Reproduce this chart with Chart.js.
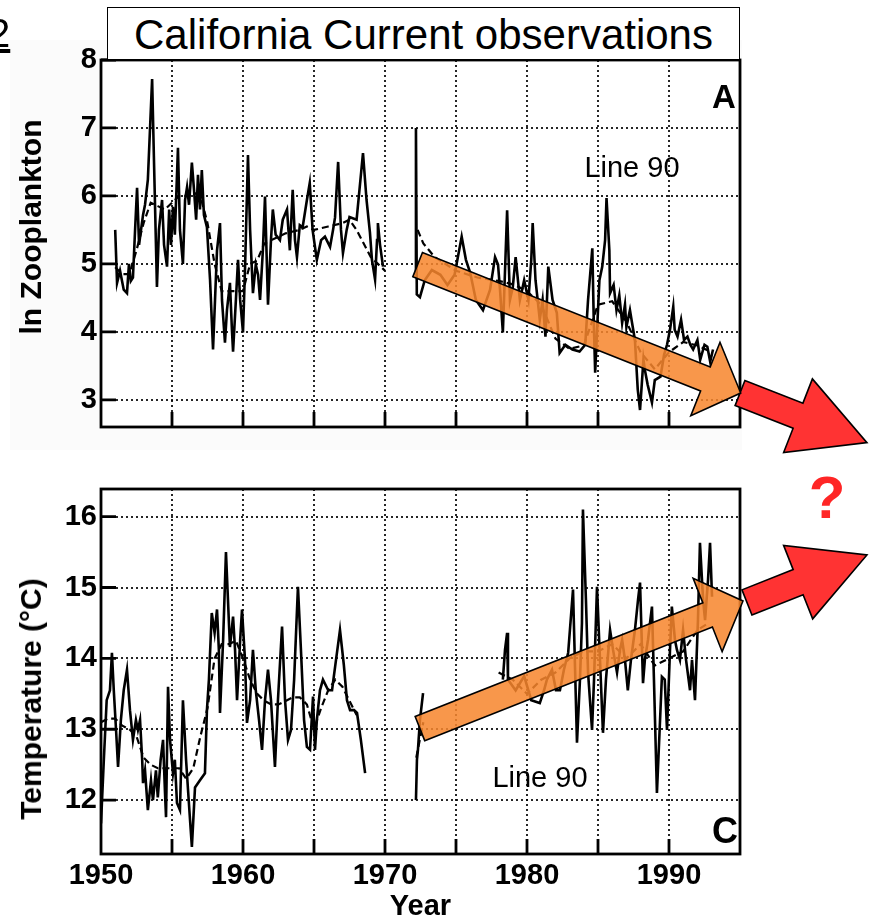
<!DOCTYPE html>
<html>
<head>
<meta charset="utf-8">
<script src="https://cdn.jsdelivr.net/npm/chart.js@4/dist/chart.umd.min.js"></script>
<style>
  html, body { margin: 0; padding: 0; background: #fff; }
  body { width: 869px; height: 921px; position: relative; overflow: hidden; font-family: 'Liberation Sans', Arial, Helvetica, sans-serif; }
  canvas { position: absolute; left: 0; }
  .t { position: absolute; white-space: nowrap; line-height: 1; transform: translate(-50%, -50%); color: #000; }
  .rot { transform: translate(-50%, -50%) rotate(-90deg); }
</style>
</head>
<body>
<div style="position:absolute;left:10px;top:40px;width:732px;height:410px;background:#fbfbfb;"></div>
<canvas id="top" width="869" height="460" style="top:0;width:869px;height:460px;"></canvas>
<canvas id="bottom" width="869" height="461" style="top:460px;width:869px;height:461px;"></canvas>

<div style="position:absolute;left:-12px;top:13px;font-size:40px;line-height:1;text-decoration:underline;">2</div>
<div style="position:absolute;left:107px;top:7px;width:633px;height:53px;box-sizing:border-box;border:1.5px solid #000;background:#fff;padding-top:2px;font-size:42px;line-height:50px;text-align:center;white-space:nowrap;">California Current observations</div>
<div class="t rot" style="left:31px;top:227px;font-size:30px;font-weight:bold;">ln Zooplankton</div>
<div class="t rot" style="left:31px;top:699px;font-size:30px;font-weight:bold;">Temperature (°C)</div>
<div class="t" style="left:724px;top:96px;font-size:33px;font-weight:bold;">A</div>
<div class="t" style="left:725px;top:831px;font-size:36px;font-weight:bold;">C</div>
<div class="t" style="left:632px;top:167px;font-size:29px;">Line 90</div>
<div class="t" style="left:540px;top:777px;font-size:29px;">Line 90</div>
<div class="t" style="left:827px;top:498px;font-size:60px;font-weight:bold;color:#ff2626;">?</div>

<script>
// ---------- data ----------
const yearTicks = [1950, 1960, 1970, 1980, 1990];
const zooTicks = [3, 4, 5, 6, 7, 8];
const tempTicks = [12, 13, 14, 15, 16];

// Panel A: ln zooplankton volume, Line 90 (raw)
const zooRawYears = [
  1951.0,1951.13,1951.34,1951.6,1951.83,1951.97,1952.1,1952.25,1952.4,1952.54,
  1952.68,1952.8,1952.96,1953.1,1953.3,1953.6,1953.73,1953.94,1954.08,1954.3,
  1954.44,1954.65,1954.8,1954.93,1955.07,1955.2,1955.42,1955.56,1955.77,1955.92,
  1956.06,1956.2,1956.4,1956.55,1956.7,1956.83,1956.97,1957.1,1957.25,1957.46,
  1957.68,1957.89,1958.03,1958.17,1958.38,1958.52,1958.73,1958.87,1959.08,1959.22,
  1959.3,1959.5,1959.65,1959.8,1960.0,1960.14,1960.35,1960.5,1960.7,1960.9,
  1961.06,1961.2,1961.4,1961.55,1961.76,1961.97,1962.1,1962.3,1962.6,1962.8,
  1963.1,1963.3,1963.5,1963.66,1963.8,1964.0,1964.2,1964.5,1964.7,1964.9,
  1965.2,1965.5,1965.77,1966.13,1966.34,1966.48,1966.7,1966.9,1967.04,1967.3,
  1967.5,1968.0,1968.45,1968.7,1968.94,1969.08,1969.3,1969.44,1969.5,1969.65,
  1969.86,
  1971,
  1972.15,1972.18,1972.24,1972.46,1972.8,1973.3,1973.9,1974.4,1974.9,1975.4,
  1975.7,1976.0,1976.4,1976.9,1977.4,1977.75,1977.96,1978.1,1978.3,1978.6,
  1978.8,1979.0,1979.2,1979.5,1979.8,1980.1,1980.3,1980.4,1980.6,1980.9,
  1981.1,1981.3,1981.5,1981.8,1982.1,1982.3,1982.7,1983.2,1983.7,1984.1,
  1984.3,1984.6,1984.7,1984.8,1985.0,1985.1,1985.3,1985.5,1985.6,1985.8,
  1985.85,1986.1,1986.3,1986.5,1986.7,1986.9,1987.0,1987.25,1987.4,1987.6,
  1987.8,1987.96,1988.2,1988.3,1988.5,1988.8,1989.0,1989.4,1989.65,1989.86,
  1990.07,1990.3,1990.4,1990.6,1990.85,1991.06,1991.3,1991.5,1991.7,1992.0,
  1992.2,1992.5,1992.7,1992.9,1993.1
];
const zooRawValues = [
  5.50,4.72,4.90,4.62,4.57,5.00,4.75,4.80,5.50,6.12,
  5.28,5.47,5.72,5.87,6.24,7.72,6.53,4.66,5.50,5.94,
  5.28,4.96,5.80,5.28,5.84,5.43,6.71,5.50,5.00,5.94,
  6.13,5.87,6.49,6.09,5.65,6.31,5.80,6.38,5.72,5.54,
  4.76,3.74,4.47,5.20,5.60,4.47,3.84,4.32,4.72,4.03,
  3.71,4.47,5.06,4.47,3.99,4.91,6.60,5.50,4.57,4.99,
  4.84,4.47,5.20,5.99,4.40,5.35,5.80,5.43,5.35,5.65,
  5.80,5.20,6.09,5.35,5.10,5.57,5.54,5.94,6.19,5.50,
  5.06,5.35,5.40,5.25,5.50,5.68,6.50,5.50,5.16,5.50,
  5.69,5.65,6.63,5.94,5.46,5.06,4.77,5.35,5.60,5.28,
  4.96,
  null,
  4.90,7.00,4.55,4.51,4.76,4.91,4.84,4.69,4.84,5.40,
  5.06,4.87,4.47,4.32,4.62,5.10,4.99,4.62,3.99,5.79,
  4.47,4.66,5.10,4.47,4.76,4.47,5.06,5.60,4.76,4.18,
  4.47,3.93,4.96,4.47,4.28,3.69,3.81,3.74,3.71,3.81,
  4.47,5.23,4.18,3.40,4.32,4.76,4.96,5.35,5.97,5.20,
  4.57,4.69,4.32,4.54,4.13,4.40,4.07,4.32,4.13,3.88,
  3.15,2.85,3.59,3.44,3.22,2.96,3.29,3.34,3.66,3.81,
  4.03,4.37,4.03,3.93,4.18,3.88,3.93,3.81,3.74,3.88,
  3.59,3.81,3.78,3.56,3.74
];

// Panel A: smoothed (dashed)
const zooSmoothYears = [
  1951.0,1951.5,1952,1952.5,1953,1953.5,1954,1954.5,1955,1955.5,
  1956,1956.5,1957,1957.5,1958,1958.5,1959,1959.5,1960,1960.5,
  1961,1961.5,1962,1963,1964,1964.5,1965,1966,1967,1967.5,
  1968,1968.5,1969,1969.5,1970,
  1971,
  1972.3,1972.7,1973.5,1975,1976.5,1978,1979,1980,1981,1982,
  1983,1984,1985,1986,1987,1988,1989,1990,1991,1992,1993
];
const zooSmoothValues = [
  4.95,4.85,4.85,5.2,5.6,5.9,5.85,5.8,5.9,6.0,
  6.0,6.05,6.0,5.6,5.0,4.6,4.6,4.6,4.6,5.0,
  5.05,5.3,5.35,5.45,5.5,5.55,5.5,5.55,5.6,5.65,
  5.5,5.3,5.1,5.0,4.9,
  null,
  5.5,5.3,5.1,4.9,4.8,4.75,4.7,4.6,4.4,3.9,
  3.75,3.8,4.4,4.45,4.15,3.7,3.45,3.7,3.85,3.8,3.7
];

// Panel C: temperature (°C), Line 90 (raw)
const tempRawYears = [
  1950.0,1950.2,1950.4,1950.63,1950.77,1950.9,1951.06,1951.2,1951.4,1951.6,
  1951.83,1952.04,1952.25,1952.46,1952.6,1952.75,1952.9,1952.96,1953.1,1953.3,
  1953.52,1953.66,1953.87,1954.0,1954.2,1954.37,1954.5,1954.58,1954.72,1954.86,
  1955.07,1955.2,1955.35,1955.56,1955.77,1955.99,1956.13,1956.27,1956.4,1956.62,
  1956.97,1957.32,1957.46,1957.6,1957.8,1958.0,1958.17,1958.3,1958.38,1958.6,
  1958.8,1958.94,1959.08,1959.3,1959.44,1959.58,1959.8,1959.93,1960.14,1960.28,
  1960.5,1960.7,1960.9,1961.13,1961.34,1961.55,1961.76,1961.97,1962.25,1962.46,
  1962.75,1962.96,1963.17,1963.38,1963.6,1963.87,1964.08,1964.3,1964.5,1964.72,
  1964.93,1965.07,1965.2,1965.42,1965.63,1966.0,1966.27,1966.55,1966.83,1967.1,
  1967.32,1967.54,1967.82,1968.03,1968.3,1968.6,
  1970,
  1972.18,1972.25,1972.32,1972.46,1972.68,
  1975,
  1978.3,1978.45,1978.6,1978.66,1979.2,1979.8,1980.3,1980.9,1981.2,1981.4,
  1981.76,1982.04,1982.32,1982.6,1982.9,1983.24,1983.52,1983.73,1983.87,1983.94,
  1984.15,1984.3,1984.58,1984.72,1984.93,1985.14,1985.35,1985.56,1985.85,1986.06,
  1986.34,1986.55,1986.7,1986.9,1987.1,1987.32,1987.6,1987.82,1987.96,1988.17,
  1988.3,1988.52,1988.8,1988.94,1989.15,1989.37,1989.5,1989.7,1989.86,1990.07,
  1990.2,1990.42,1990.56,1990.77,1990.99,1991.2,1991.48,1991.62,1991.83,1992.04,
  1992.18,1992.4,1992.54,1992.75,1992.89,1993.03
];
const tempRawValues = [
  11.67,12.57,13.41,13.55,14.08,13.55,12.99,12.47,13.13,13.55,
  13.84,13.27,12.85,13.13,12.99,13.13,12.57,12.24,12.42,11.86,
  12.28,12.0,12.42,12.04,12.57,12.85,12.14,11.76,13.6,12.85,
  12.38,12.57,11.96,11.86,13.41,12.57,12.14,11.72,11.34,12.18,
  12.28,12.38,13.27,13.7,14.64,14.36,14.69,14.12,13.23,14.26,
  15.5,14.83,14.16,14.59,14.12,13.41,14.26,14.69,13.98,13.09,
  13.41,14.12,13.55,13.13,12.71,13.41,13.84,13.41,12.47,13.41,
  14.45,13.41,12.85,12.99,13.7,15.01,14.12,13.13,12.75,12.71,
  13.46,12.71,13.13,13.55,13.7,13.55,13.55,13.98,14.4,13.91,
  13.41,13.27,13.27,13.23,12.85,12.38,
  null,
  12.0,12.57,12.71,13.13,13.51,
  null,
  13.7,14.12,14.36,13.7,13.55,13.75,13.41,13.37,13.55,13.7,
  13.84,13.55,13.55,13.84,14.08,14.97,12.81,13.7,14.5,16.1,
  14.83,13.8,12.99,13.7,15.01,13.98,12.95,13.7,14.4,14.12,
  13.8,14.12,14.26,13.98,13.55,13.98,14.4,14.83,15.07,13.65,
  13.98,14.26,14.73,13.7,12.1,13.13,13.74,13.7,12.99,14.12,
  14.73,14.26,14.12,13.98,14.4,13.98,13.55,13.98,13.41,14.54,
  15.63,14.83,14.54,15.11,15.63,14.87
];

// Panel C: smoothed (dashed)
const tempSmoothYears = [
  1950.0,1950.5,1951,1951.5,1952,1952.5,1953,1953.5,1954,1954.5,
  1955,1955.5,1956,1956.5,1957,1957.5,1958,1958.5,1959,1959.5,
  1960,1960.5,1961,1961.5,1962,1962.5,1963,1963.5,1964,1964.5,
  1965,1965.5,1966,1966.5,1967,1967.5,1968,
  1970,
  1972.2,1972.5,1972.7,
  1975,
  1978,1979,1980,1981,1982,1983,1984,1985,1986,1987,
  1988,1989,1990,1991,1992,1992.8
];
const tempSmoothValues = [
  13.1,13.15,13.15,13.05,13.0,12.9,12.6,12.5,12.45,12.45,
  12.45,12.45,12.3,12.45,12.9,13.3,14.0,14.2,14.2,14.25,
  14.0,13.7,13.5,13.4,13.35,13.35,13.4,13.45,13.45,13.35,
  13.0,13.3,13.55,13.7,13.6,13.4,13.2,
  null,
  12.6,12.9,13.1,
  null,
  13.8,13.7,13.5,13.7,13.8,14.0,14.1,14.1,14.2,14.0,
  14.2,13.9,14.0,14.1,14.4,14.5
];

// Trend arrows drawn on the figure, in data coordinates [year, value]
const zooTrendArrow = { from: [1972.3, 4.99], to: [1995.05, 3.10] };
const zooFutureArrow = { from: [1995.0, 3.10], to: [2003.94, 2.37] };
const tempTrendArrow = { from: [1972.46, 13.01], to: [1995.21, 14.81] };
const tempFutureArrow = { from: [1995.49, 14.79], to: [2003.94, 15.46] };

// ---------- rendering ----------
const FONT = "'Liberation Sans', Arial, Helvetica, sans-serif";
const toPoints = (xs, ys) => xs.map((x, i) => ({ x: x, y: ys[i] }));
const ORANGE = { fill: 'rgba(247,134,45,0.86)', shaft: 26, headLen: 38, headW: 79 };
const RED = { fill: 'rgb(255,51,51)', shaft: 27, headLen: 74, headW: 79 };

function drawArrow(ctx, x0, y0, x1, y1, st) {
  const dx = x1 - x0, dy = y1 - y0, L = Math.hypot(dx, dy);
  const ux = dx / L, uy = dy / L, nx = -uy, ny = ux;
  const bx = x1 - ux * st.headLen, by = y1 - uy * st.headLen;
  const w = st.shaft / 2, h = st.headW / 2;
  ctx.beginPath();
  ctx.moveTo(x0 + nx * w, y0 + ny * w);
  ctx.lineTo(bx + nx * w, by + ny * w);
  ctx.lineTo(bx + nx * h, by + ny * h);
  ctx.lineTo(x1, y1);
  ctx.lineTo(bx - nx * h, by - ny * h);
  ctx.lineTo(bx - nx * w, by - ny * w);
  ctx.lineTo(x0 - nx * w, y0 - ny * w);
  ctx.closePath();
  ctx.fillStyle = st.fill;
  ctx.fill();
  ctx.lineWidth = 1.6;
  ctx.strokeStyle = '#000';
  ctx.lineJoin = 'miter';
  ctx.stroke();
}

const framePlugin = {
  id: 'frame',
  beforeDraw(chart) {
    const { ctx, chartArea: a } = chart;
    ctx.save();
    ctx.fillStyle = '#fff';
    ctx.fillRect(a.left, a.top, a.right - a.left, a.bottom - a.top);
    ctx.restore();
  },
  afterDatasetsDraw(chart) {
    const { ctx, chartArea: a, scales: { x, y } } = chart;
    ctx.save();
    ctx.strokeStyle = '#000';
    ctx.lineWidth = 2.8;
    ctx.strokeRect(a.left, a.top, a.right - a.left, a.bottom - a.top);
    ctx.beginPath();
    y.ticks.forEach(t => {
      const py = y.getPixelForValue(t.value);
      ctx.moveTo(a.left, py); ctx.lineTo(a.left + 15, py);
    });
    x.ticks.forEach(t => {
      if (t.value > x.min && t.value < x.max) {
        const px = x.getPixelForValue(t.value);
        ctx.moveTo(px, a.bottom); ctx.lineTo(px, a.bottom - 15);
      }
    });
    ctx.stroke();
    ctx.restore();
  },
  afterDraw(chart, args, opts) {
    const { ctx, scales: { x, y } } = chart;
    ctx.save();
    (opts.arrows || []).forEach(ar => {
      drawArrow(ctx,
        x.getPixelForValue(ar.from[0]), y.getPixelForValue(ar.from[1]),
        x.getPixelForValue(ar.to[0]), y.getPixelForValue(ar.to[1]), ar.style);
    });
    ctx.restore();
  }
};

function makeChart(id, cfg) {
  return new Chart(document.getElementById(id), {
    type: 'line',
    data: {
      datasets: [
        { data: toPoints(cfg.rawX, cfg.rawY), borderColor: '#000', borderWidth: 2.6, pointRadius: 0, tension: 0, spanGaps: false },
        { data: toPoints(cfg.smX, cfg.smY), borderColor: '#000', borderWidth: 2.2, borderDash: [7, 4], pointRadius: 0, tension: 0, spanGaps: false }
      ]
    },
    options: {
      responsive: false,
      animation: false,
      devicePixelRatio: 1,
      events: [],
      layout: { padding: { left: 0, right: 129, top: cfg.padTop, bottom: 0 } },
      plugins: {
        legend: { display: false },
        tooltip: { enabled: false },
        title: { display: false },
        frame: { arrows: cfg.arrows }
      },
      scales: {
        x: {
          type: 'linear', min: 1950, max: 1995,
          ticks: {
            display: cfg.showX, stepSize: 5, autoSkip: false, maxRotation: 0, padding: 5,
            color: '#000', font: { family: FONT, size: 29, weight: 'bold' },
            callback: v => yearTicks.includes(v) ? String(v) : ''
          },
          grid: { color: 'rgba(0,0,0,0.85)', lineWidth: 2, drawTicks: false },
          border: { display: false, dash: [2, 3] },
          title: cfg.showX ? { display: true, text: 'Year', color: '#000', padding: 0, font: { family: FONT, size: 29, weight: 'bold', lineHeight: 1 } } : { display: false },
          afterFit: s => { s.height = cfg.xHeight; }
        },
        y: {
          type: 'linear', min: cfg.yMin, max: cfg.yMax,
          afterBuildTicks: s => { s.ticks = cfg.yTicks.map(v => ({ value: v })); },
          ticks: { padding: 4, color: '#000', font: { family: FONT, size: 29, weight: 'bold' }, callback: v => String(v) },
          grid: { color: 'rgba(0,0,0,0.85)', lineWidth: 2, drawTicks: false },
          border: { display: false, dash: [2, 3] },
          afterFit: s => { s.width = 101; }
        }
      }
    },
    plugins: [framePlugin]
  });
}

makeChart('top', {
  rawX: zooRawYears, rawY: zooRawValues, smX: zooSmoothYears, smY: zooSmoothValues,
  yMin: 2.6, yMax: 8, yTicks: zooTicks, padTop: 60, xHeight: 33, showX: false,
  arrows: [
    { from: zooFutureArrow.from, to: zooFutureArrow.to, style: RED },
    { from: zooTrendArrow.from, to: zooTrendArrow.to, style: ORANGE }
  ]
});
makeChart('bottom', {
  rawX: tempRawYears, rawY: tempRawValues, smX: tempSmoothYears, smY: tempSmoothValues,
  yMin: 11.24, yMax: 16.39, yTicks: tempTicks, padTop: 29, xHeight: 67, showX: true,
  arrows: [
    { from: tempFutureArrow.from, to: tempFutureArrow.to, style: RED },
    { from: tempTrendArrow.from, to: tempTrendArrow.to, style: ORANGE }
  ]
});
</script>
</body>
</html>
